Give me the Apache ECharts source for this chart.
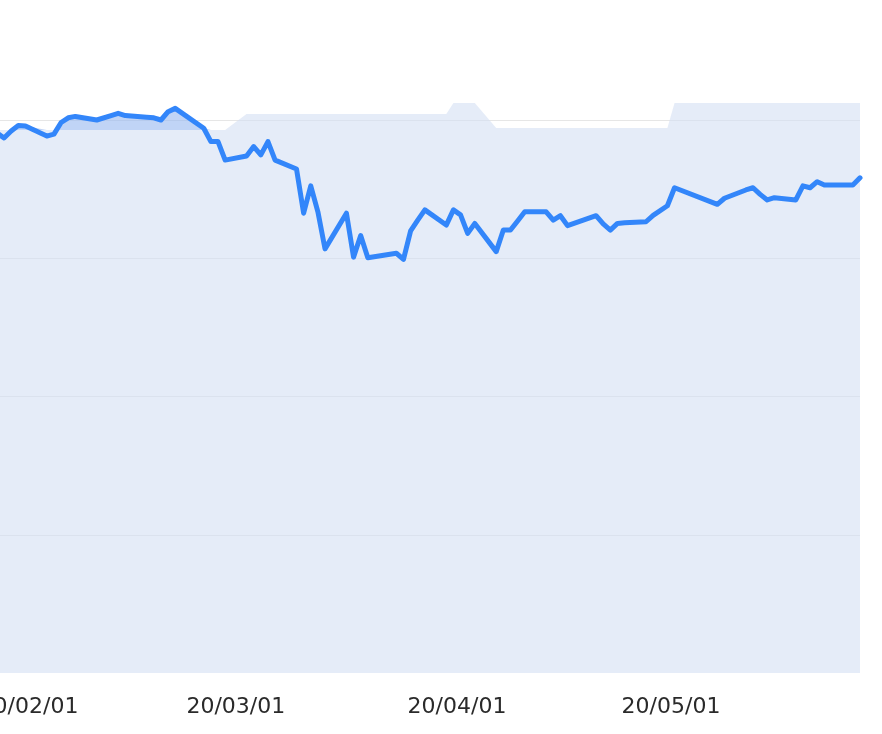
<!DOCTYPE html>
<html>
<head>
<meta charset="utf-8">
<script src="https://cdn.jsdelivr.net/npm/echarts@6/dist/echarts.min.js"></script>
<style>
html,body{margin:0;padding:0;background:#fff;}
#c{width:882px;height:734px;}
</style>
</head>
<body>
<div id="c"></div>
<script>
// Trading days (2020)
const dates = [
 '2020-01-27','2020-01-28','2020-01-29','2020-01-30','2020-01-31',
 '2020-02-03','2020-02-04','2020-02-05','2020-02-06','2020-02-07','2020-02-10','2020-02-12','2020-02-13','2020-02-14',
 '2020-02-17','2020-02-18','2020-02-19','2020-02-20','2020-02-21','2020-02-25','2020-02-26','2020-02-27','2020-02-28',
 '2020-03-02','2020-03-03','2020-03-04','2020-03-05','2020-03-06','2020-03-09','2020-03-10','2020-03-11','2020-03-12','2020-03-13',
 '2020-03-16','2020-03-17','2020-03-18','2020-03-19','2020-03-23','2020-03-24','2020-03-25','2020-03-26','2020-03-27','2020-03-30','2020-03-31',
 '2020-04-01','2020-04-02','2020-04-03','2020-04-06','2020-04-07','2020-04-08','2020-04-09','2020-04-10','2020-04-13','2020-04-14',
 '2020-04-15','2020-04-16','2020-04-17','2020-04-20','2020-04-21','2020-04-22','2020-04-23','2020-04-24','2020-04-27','2020-04-28','2020-04-30',
 '2020-05-01','2020-05-07','2020-05-08','2020-05-11','2020-05-12','2020-05-13','2020-05-14','2020-05-15','2020-05-18','2020-05-19',
 '2020-05-20','2020-05-21','2020-05-22','2020-05-25','2020-05-26','2020-05-27'
];
// Main price line
const price = [
 1953,1935,1960,1980,1978,
 1942,1949,1991,2008,2013,2000,2016,2024,2016,
 2010,2008,2000,2030,2042,1970,1922,1922,1855,
 1870,1904,1874,1922,1855,1823,1663,1762,1668,1534,
 1663,1504,1582,1502,1518,1496,1599,1638,1675,1620,1675,
 1657,1590,1626,1524,1602,1602,1635,1668,1668,1638,
 1654,1618,1627,1654,1624,1602,1626,1628,1632,1655,1690,
 1755,1695,1717,1747,1755,1731,1711,1719,1711,1762,
 1755,1777,1765,1765,1765,1791
];
// Step-shaped background level
const level = [
 1964,1964,1964,1964,1964,
 1964,1964,1964,1964,1964,1964,1964,1964,1964,
 1964,1964,1964,1964,1964,1964,1964,1964,1964,
 2022,2022,2022,2022,2022,2022,2022,2022,2022,2022,
 2022,2022,2022,2022,2022,2022,2022,2022,2022,2022,2061.5,
 2061.5,2061.5,2061.5,1971,1971,1971,1971,1971,1971,1971,
 1971,1971,1971,1971,1971,1971,1971,1971,1971,1971,1971,
 2061.5,2061.5,2061.5,2061.5,2061.5,2061.5,2061.5,2061.5,2061.5,2061.5,
 2061.5,2061.5,2061.5,2061.5,2061.5,2061.5
];
const yTicks = [0, 500, 1000, 1500, 2000];
const yMax = 2061.5;

function t(s){ const p = s.split('-'); return new Date(+p[0], +p[1]-1, +p[2], 12).getTime(); }
const DAY = 864e5;
const xMin = new Date(2020,1,1).getTime() - 4.066*DAY;
const xMax = t('2020-05-27');

const levelData = dates.map((d,i)=>[t(d), level[i]]);
const bandData = dates.map((d,i)=>[t(d), Math.max(0, price[i]-level[i])]);
const priceData = dates.map((d,i)=>[t(d), price[i]]);

function pad(n){ return (n<10?'0':'')+n; }
const chart = echarts.init(document.getElementById('c'));
chart.setOption({
  animation:false,
  backgroundColor:'#ffffff',
  grid:{left:0,right:22,top:103,bottom:61,containLabel:false,outerBoundsMode:'none'},
  xAxis:{
    type:'time', min:xMin, max:xMax, splitNumber:4,
    minInterval:28*DAY,
    axisLine:{show:false}, axisTick:{show:false}, splitLine:{show:false},
    axisLabel:{
      showMinLabel:false, showMaxLabel:false, margin:23, hideOverlap:false,
      color:'#2a2a2a', fontSize:22, fontFamily:'DejaVu Sans',
      formatter:function(v){ const d=new Date(v); return pad(d.getFullYear()%100)+'/'+pad(d.getMonth()+1)+'/'+pad(d.getDate()); }
    }
  },
  yAxis:{
    type:'value', min:yTicks[0], max:yMax, interval:yTicks[1]-yTicks[0],
    axisLine:{show:false}, axisTick:{show:false}, axisLabel:{show:false},
    splitLine:{show:true, showMinLine:false, showMaxLine:false, lineStyle:{color:'#e6e6e6', width:1}}
  },
  series:[
    {type:'line', name:'level', data:levelData, stack:'bg', symbol:'none', silent:true,
     lineStyle:{width:0}, areaStyle:{color:'rgba(212,223,243,0.6)', opacity:1}, z:1},
    {type:'line', name:'band', data:bandData, stack:'bg', symbol:'none', silent:true,
     lineStyle:{width:0}, areaStyle:{color:'rgba(150,183,240,0.6)', opacity:1}, z:1},
    {type:'line', name:'price', data:priceData, symbol:'none',
     lineStyle:{color:'#3386fa', width:5, cap:'round', join:'round'}, z:3}
  ]
});
</script>
</body>
</html>
